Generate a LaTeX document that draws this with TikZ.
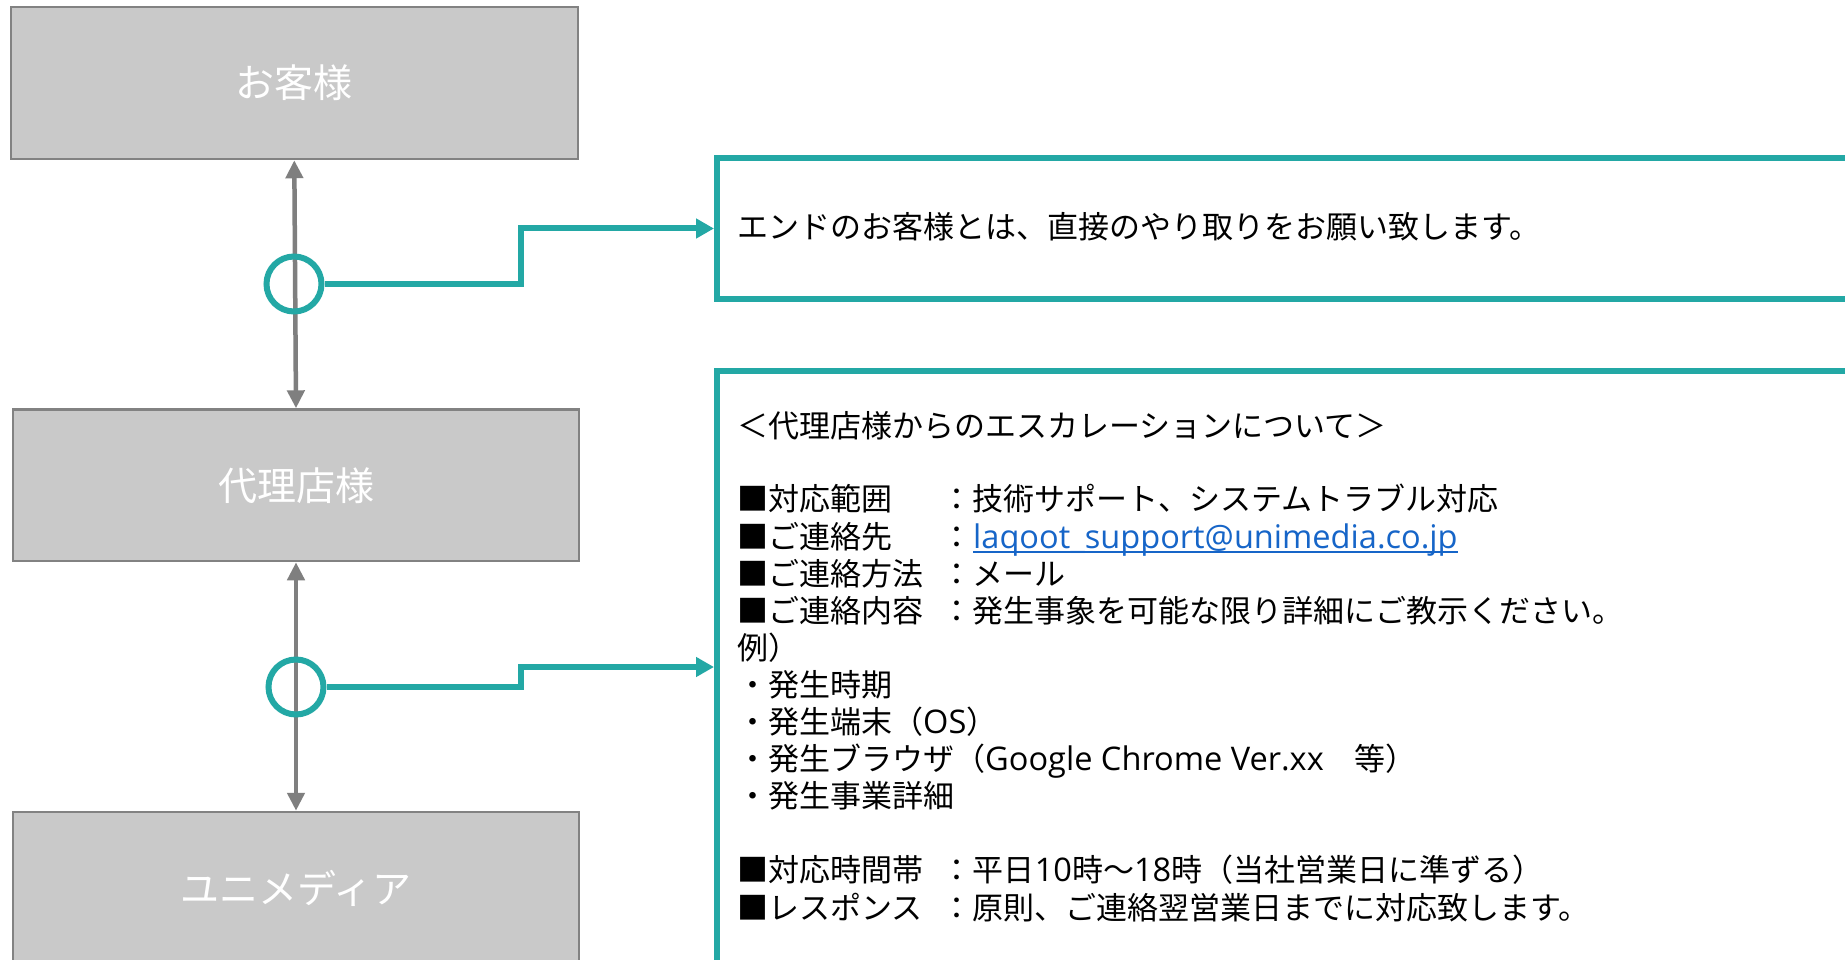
\documentclass[tikz,border=0pt]{standalone}
\usepackage{fontspec}
\setmainfont{Noto Sans CJK JP}
\newfontfamily\latinrun[Scale=1.05]{Open Sans}
\usetikzlibrary{arrows.meta}
\definecolor{boxfill}{RGB}{201,201,201}
\definecolor{boxline}{RGB}{130,130,130}
\definecolor{arrowgray}{RGB}{127,127,127}
\definecolor{tealc}{RGB}{35,168,165}
\definecolor{linkblue}{RGB}{22,101,200}
\newcommand{\rowlab}[1]{\makebox[204.6pt][l]{#1}：}
\begin{document}
\begin{tikzpicture}[x=1pt,y=-1pt,
  graybox/.style={draw=boxline, fill=boxfill, line width=2.5pt, minimum width=567pt, minimum height=152pt, inner sep=0pt, text=white, font=\fontsize{39}{45}\selectfont},
  tealbox/.style={draw=tealc, line width=6pt, fill=white, inner sep=0pt, anchor=north west},
  grayarrow/.style={draw=arrowgray, line width=4.5pt, {Triangle[length=18pt,width=17pt]}-{Triangle[length=18pt,width=17pt]}},
  tealring/.style={circle, draw=tealc, line width=6pt, minimum size=55pt, inner sep=0pt},
  tealconn/.style={draw=tealc, line width=6pt, -{Triangle[length=18pt,width=19pt]}},
  txt/.style={anchor=base west, inner sep=0pt, font=\fontsize{31}{37}\selectfont},
]
\useasboundingbox (0,0) rectangle (1845,960);
\clip (0,0) rectangle (1845,960);
\fill[white] (0,0) rectangle (1845,960);

% gray boxes
\node[graybox] (cust) at (294.3,83) {お客様};
\node[graybox, minimum width=566pt, minimum height=151.5pt] (agent) at (296,485.3) {代理店様};
\node[graybox, minimum width=566pt] (uni) at (296,888) {ユニメディア};

% gray double arrows
\draw[grayarrow] (cust.south) -- (agent.north);
\draw[grayarrow] (agent.south) -- (uni.north);

% teal note boxes
\node[tealbox, minimum width=1183pt, minimum height=140pt] (note1) at (714,155.5) {};
\node[tealbox, minimum width=1183pt, minimum height=700pt] (note2) at (714,368) {};

% rings
\node[tealring] (r1) at (294,284) {};
\node[tealring] (r2) at (296,687) {};

% connectors
\coordinate (k1) at (521,228.5);
\draw[tealconn] (r1.east) -| (k1) -- (k1 -| note1.west);
\coordinate (k2) at (521,667);
\draw[tealconn] (r2.east) -| (k2) -- (k2 -| note2.west);

% text of note 1
\node[txt] (t1) at (737,238.7) {エンドのお客様とは、直接のやり取りをお願い致します。};

% text of note 2
\node[txt] (l0) at (737,437.2) {＜代理店様からのエスカレーションについて＞};
\node[txt] (l2) at (737,510.9) {\rowlab{■対応範囲}技術サポート、システムトラブル対応};
\node[txt] (l3) at (737,548) {\rowlab{■ご連絡先}};
\node[txt, text=linkblue] (mail) at (l3.base east) {\latinrun laqoot\_support@unimedia.co.jp};
\draw[linkblue, line width=2pt] ([yshift=-3.7pt]mail.base west) -- ([yshift=-3.7pt]mail.base east);
\node[txt] (l4) at (737,585.1) {\rowlab{■ご連絡方法}メール};
\node[txt] (l5) at (737,622.2) {\rowlab{■ご連絡内容}発生事象を可能な限り詳細にご教示ください。};
\node[txt] (l6) at (737,659.3) {例）};
\node[txt] (l7) at (737,696.4) {・発生時期};
\node[txt] (l8) at (737,733.5) {・発生端末（{\latinrun OS}）};
\node[txt] (l9) at (737,770.6) {・発生ブラウザ（{\latinrun Google Chrome Ver.xx}　等）};
\node[txt] (l10) at (737,807.7) {・発生事業詳細};
\node[txt] (l12) at (737,881.9) {\rowlab{■対応時間帯}平日{\latinrun 10}時～{\latinrun 18}時（当社営業日に準ずる）};
\node[txt] (l13) at (737,919) {\rowlab{■レスポンス}原則、ご連絡翌営業日までに対応致します。};
\end{tikzpicture}
\end{document}
